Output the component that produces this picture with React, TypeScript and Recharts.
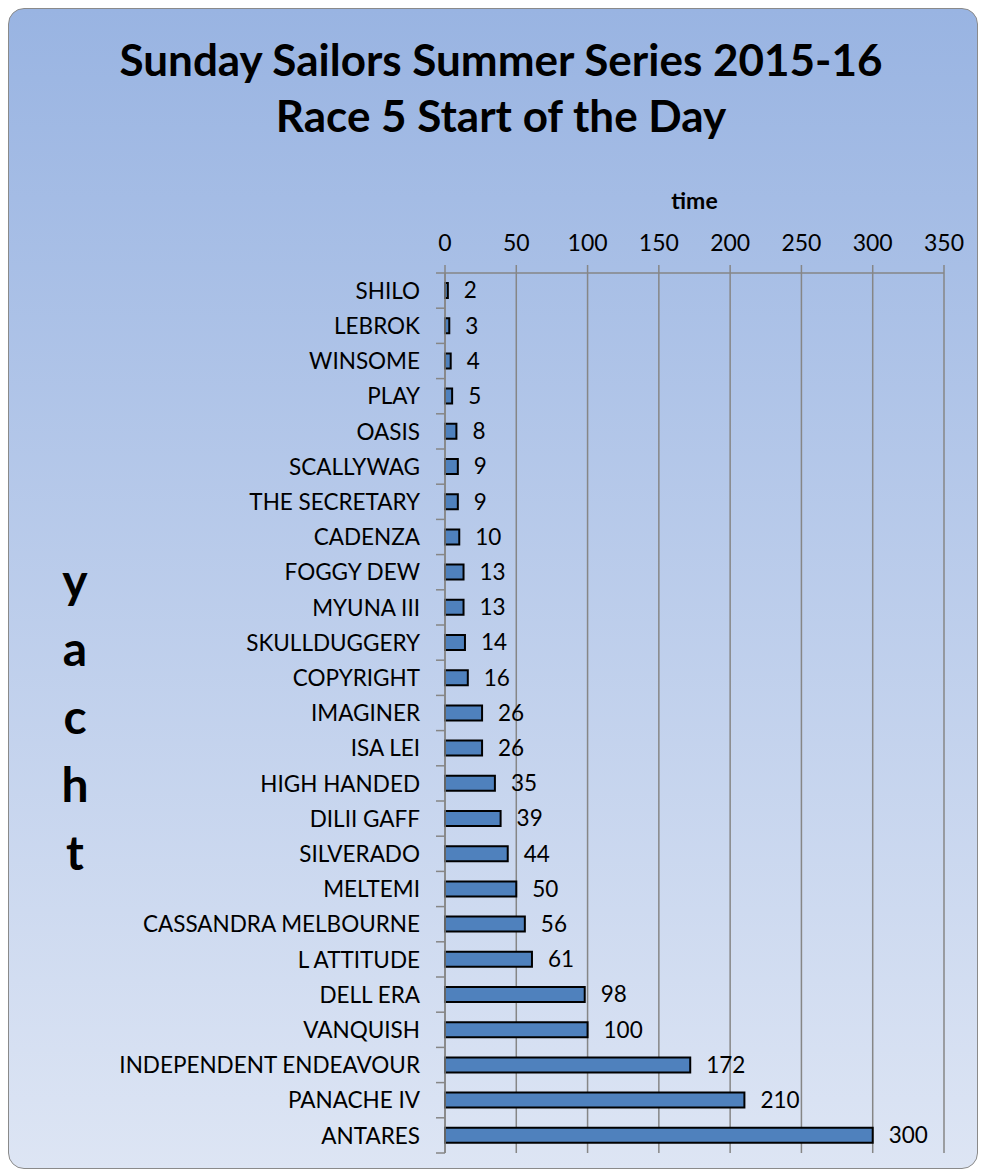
import { BarChart, Bar, XAxis, YAxis, CartesianGrid, LabelList } from 'recharts';

const yachts = [
  'SHILO', 'LEBROK', 'WINSOME', 'PLAY', 'OASIS', 'SCALLYWAG', 'THE SECRETARY',
  'CADENZA', 'FOGGY DEW', 'MYUNA III', 'SKULLDUGGERY', 'COPYRIGHT', 'IMAGINER',
  'ISA LEI', 'HIGH HANDED', 'DILII GAFF', 'SILVERADO', 'MELTEMI',
  'CASSANDRA MELBOURNE', 'L ATTITUDE', 'DELL ERA', 'VANQUISH',
  'INDEPENDENT ENDEAVOUR', 'PANACHE IV', 'ANTARES',
];
const times = [2, 3, 4, 5, 8, 9, 9, 10, 13, 13, 14, 16, 26, 26, 35, 39, 44, 50, 56, 61, 98, 100, 172, 210, 300];
const timeTicks = [0, 50, 100, 150, 200, 250, 300, 350];
const titleLines = ['Sunday Sailors Summer Series 2015-16', 'Race 5 Start of the Day'];
const yLetters = ['y', 'a', 'c', 'h', 't'];

const data = yachts.map((name, i) => ({ name, time: times[i] }));

const W = 981;
const H = 1173;
const FONT = 'Lato, "Open Sans", sans-serif';
const GRID = '#868686';
const TOP = 273;
const BOTTOM = 1153;
const AXIS_X = 445;
const band = (BOTTOM - TOP) / yachts.length;

// category label plus the small tick marks that sit between categories
function YachtTick(props: any) {
  const { x, y, payload, index } = props;
  return (
    <g>
      <text x={x} y={y} dy="0.36em" textAnchor="end" fontSize={22.5} fill="#000" fontFamily={FONT}>
        {payload.value}
      </text>
      <line x1={AXIS_X - 9} x2={AXIS_X} y1={y - band / 2} y2={y - band / 2} stroke={GRID} strokeWidth={1.5} />
      {index === yachts.length - 1 && (
        <line x1={AXIS_X - 9} x2={AXIS_X} y1={y + band / 2} y2={y + band / 2} stroke={GRID} strokeWidth={1.5} />
      )}
    </g>
  );
}

export default function App() {
  return (
    <div style={{ position: 'relative', width: W, height: H, fontFamily: FONT }}>
      <style>{'body{margin:0}'}</style>
      <div
        style={{
          position: 'absolute',
          left: 8,
          top: 8,
          width: 970,
          height: 1161,
          boxSizing: 'border-box',
          border: '1.5px solid #8a8a8a',
          borderRadius: 16,
          background: 'linear-gradient(to bottom, #99b4e2 0%, #dde5f4 100%)',
        }}
      />
      <svg style={{ position: 'absolute', left: 0, top: 0 }} width={W} height={H}>
        {titleLines.map((t, i) => (
          <text key={t} x={501} y={76 + i * 56} textAnchor="middle" fontSize={44} fontWeight="bold" fontFamily={FONT} fill="#000">
            {t}
          </text>
        ))}
        <text x={694.5} y={209} textAnchor="middle" fontSize={23} fontWeight="bold" fontFamily={FONT} fill="#000">
          time
        </text>
        {yLetters.map((l, i) => (
          <text key={l} x={75} y={598 + i * 68} textAnchor="middle" fontSize={48} fontWeight="bold" fontFamily={FONT} fill="#000">
            {l}
          </text>
        ))}
      </svg>
      <div style={{ position: 'absolute', left: 0, top: 0 }}>
        <BarChart
          width={W}
          height={H}
          data={data}
          layout="vertical"
          margin={{ top: TOP - 33, right: W - 944, bottom: H - BOTTOM, left: 0 }}
          barCategoryGap={0}
        >
          <CartesianGrid horizontal={false} vertical stroke={GRID} strokeWidth={1.5} />
          <XAxis
            type="number"
            orientation="top"
            domain={[0, 350]}
            ticks={timeTicks}
            height={33}
            tickSize={8}
            tickMargin={14}
            stroke={GRID}
            strokeWidth={1.5}
            tick={{ fill: '#000', fontSize: 23, fontFamily: FONT }}
          />
          <YAxis
            type="category"
            dataKey="name"
            width={AXIS_X}
            tickSize={9}
            tickMargin={16}
            tickLine={false}
            stroke={GRID}
            strokeWidth={1.5}
            interval={0}
            tick={<YachtTick />}
          />
          <Bar dataKey="time" fill="#4f81bd" stroke="#000" strokeWidth={2} barSize={15} isAnimationActive={false}>
            <LabelList dataKey="time" position="right" offset={16} fill="#000" fontSize={22.5} fontFamily={FONT} />
          </Bar>
        </BarChart>
      </div>
    </div>
  );
}
